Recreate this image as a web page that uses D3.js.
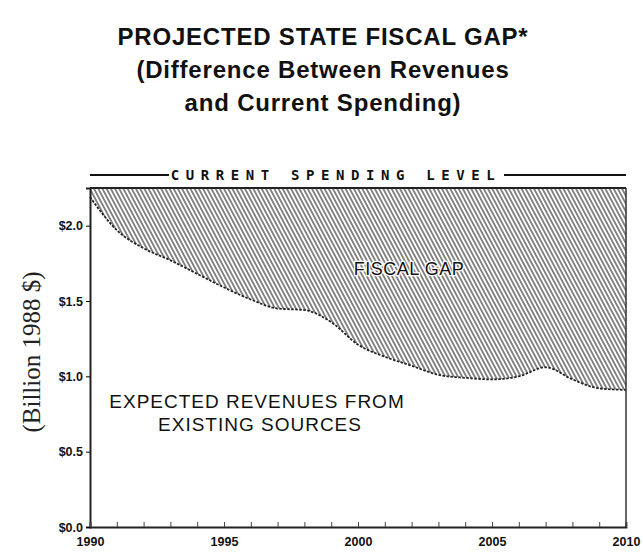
<!DOCTYPE html>
<html><head><meta charset="utf-8">
<script src="https://cdn.jsdelivr.net/npm/d3@7/dist/d3.min.js"></script>
<style>body{margin:0;background:#fff}svg{display:block}</style>
</head><body>
<svg id="c" width="643" height="557"></svg>
<script>
const titleLines = ["PROJECTED STATE FISCAL GAP*", "(Difference Between Revenues", "and Current Spending)"];
const years = [1990,1991,1992,1993,1994,1995,1996,1997,1998,1999,2000,2001,2002,2003,2004,2005,2006,2007,2008,2009,2010];
const revenues = [2.19,1.97,1.85,1.77,1.68,1.59,1.51,1.45,1.44,1.36,1.21,1.13,1.07,1.01,0.99,0.98,1.00,1.06,0.98,0.92,0.91];
const spendingLevel = 2.25;
const yTicks = [0,0.5,1.0,1.5,2.0];
const xTickLabels = [1990,1995,2000,2005,2010];

const svg = d3.select("#c");
const L = 90, R = 626, T = 188, B = 527;
const x = d3.scaleLinear().domain([1990,2010]).range([L,R]);
const y = d3.scaleLinear().domain([0,spendingLevel]).range([B,T]);
const sans = "Liberation Sans, Arial, sans-serif";

// hatch pattern
const defs = svg.append("defs");
const s = 3.7;
const pat = defs.append("pattern").attr("id","hatch").attr("patternUnits","userSpaceOnUse")
  .attr("width",s).attr("height",s).attr("patternTransform","rotate(-28)");
pat.append("rect").attr("width",s).attr("height",s).attr("fill","#fff");
pat.append("line").attr("x1",s/2).attr("y1",0).attr("x2",s/2).attr("y2",s)
  .attr("stroke","#4a4a4a").attr("stroke-width",1.3);

const data = years.map((yr,i)=>({yr, v:revenues[i]}));
const area = d3.area().x(d=>x(d.yr)).y0(y(spendingLevel)).y1(d=>y(d.v)).curve(d3.curveMonotoneX);
svg.append("path").datum(data).attr("d",area).attr("fill","url(#hatch)");
const line = d3.line().x(d=>x(d.yr)).y(d=>y(d.v)).curve(d3.curveMonotoneX);
svg.append("path").datum(data).attr("d",line).attr("fill","none").attr("stroke","#222")
  .attr("stroke-width",1.8).attr("stroke-dasharray","2.5,1.5");

// frame: top, right
svg.append("line").attr("x1",L).attr("x2",R).attr("y1",y(spendingLevel)).attr("y2",y(spendingLevel)).attr("stroke","#222").attr("stroke-width",2.2);
svg.append("line").attr("x1",R).attr("x2",R).attr("y1",T).attr("y2",B).attr("stroke","#333").attr("stroke-width",1.5);

// axes
const yAxis = d3.axisLeft(y).tickValues(yTicks).tickFormat(d=>"$"+d.toFixed(1)).tickSize(4).tickPadding(3);
const gy = svg.append("g").attr("transform",`translate(${L},0)`).call(yAxis);
gy.select(".domain").attr("stroke","#222").attr("stroke-width",2);
gy.selectAll("text").attr("font-family",sans).attr("font-weight","bold").attr("font-size",12.5).attr("fill","#111");

const xAxis = d3.axisBottom(x).tickValues(years).tickFormat(d=>xTickLabels.includes(d)?d:"").tickSize(-5).tickPadding(10);
const gx = svg.append("g").attr("transform",`translate(0,${B})`).call(xAxis);
gx.select(".domain").attr("stroke","#222").attr("stroke-width",1.8);
gx.selectAll(".tick line").attr("stroke","#444");
gx.selectAll("text").attr("font-family",sans).attr("font-weight","bold").attr("font-size",12.5).attr("fill","#111");

// title
svg.append("g").selectAll("text").data(titleLines).join("text")
  .attr("x",323).attr("y",(d,i)=>45+i*33).attr("text-anchor","middle")
  .attr("font-family",sans).attr("font-weight","bold").attr("letter-spacing",0.8)
  .attr("font-size",24).attr("fill","#111").text(d=>d);

// current spending level label
svg.append("text").attr("x",336).attr("y",180).attr("text-anchor","middle")
  .attr("font-family","DejaVu Sans Mono, monospace").attr("font-weight","bold")
  .attr("font-size",14).attr("letter-spacing",6.6).attr("fill","#111").text("CURRENT SPENDING LEVEL");
svg.append("line").attr("x1",L).attr("x2",169).attr("y1",175).attr("y2",175).attr("stroke","#111").attr("stroke-width",2);
svg.append("line").attr("x1",504).attr("x2",R).attr("y1",175).attr("y2",175).attr("stroke","#111").attr("stroke-width",2);

// annotations
svg.append("text").attr("x",409).attr("y",275).attr("text-anchor","middle")
  .attr("font-family",sans).attr("font-size",18).attr("letter-spacing",0.5).attr("fill","#111")
  .style("paint-order","stroke").attr("stroke","#fff").attr("stroke-width",2.5).text("FISCAL GAP");
svg.append("text").attr("x",257).attr("y",408).attr("text-anchor","middle")
  .attr("font-family",sans).attr("font-size",19).attr("letter-spacing",1).attr("fill","#111").text("EXPECTED REVENUES FROM");
svg.append("text").attr("x",260).attr("y",431).attr("text-anchor","middle")
  .attr("font-family",sans).attr("font-size",19).attr("letter-spacing",1).attr("fill","#111").text("EXISTING SOURCES");

// y label
svg.append("text").attr("transform","translate(40,352) rotate(-90)").attr("text-anchor","middle")
  .attr("font-family","Liberation Serif, Times New Roman, serif").attr("font-size",25).attr("fill","#222")
  .text("(Billion 1988 $)");
</script>
</body></html>
